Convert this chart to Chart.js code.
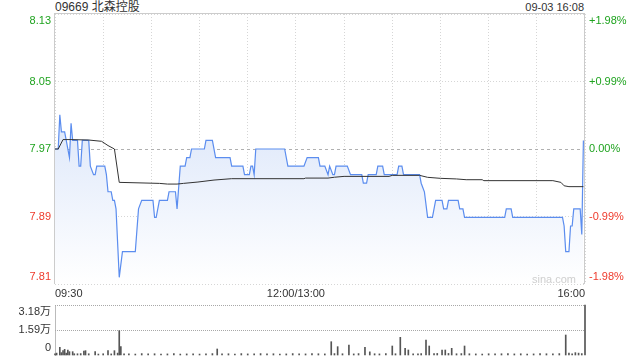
<!DOCTYPE html>
<html>
<head>
<meta charset="utf-8">
<script src="https://cdn.jsdelivr.net/npm/chart.js@4.4.1/dist/chart.umd.min.js"></script>
<style>
  body { margin: 0; background: #fff; width: 640px; height: 360px; overflow: hidden; position: relative;
         font-family: "Liberation Sans", Arial, "Noto Sans CJK SC", sans-serif; }
  #title { position: absolute; left: 55px; top: 0; font-size: 12px; line-height: 14px; color: #333; }
  #stamp { position: absolute; right: 56px; top: 0; font-size: 11px; line-height: 14px; color: #333; }
  #mark { position: absolute; left: 532px; top: 272px; font-size: 11px; line-height: 14px; color: #cfcfcf; }
  #price { position: absolute; left: 0; top: 0; }
  #vol { position: absolute; left: 0; top: 300px; }
</style>
</head>
<body>
<div id="title">09669 北森控股</div>
<div id="stamp">09-03 16:08</div>
<canvas id="price" width="640" height="300"></canvas>
<canvas id="vol" width="640" height="60"></canvas>
<div id="mark">sina.com</div>
<script>
const prevClose = 7.97
const pctTicks = [0.0198, 0.0099, 0, -0.0099, -0.0198]
const priceTickLabels = ['8.13', '8.05', '7.97', '7.89', '7.81']
const pctTickLabels = ['+1.98%', '+0.99%', '0.00%', '-0.99%', '-1.98%']
const xTickPos = [0, 150, 330]
const xTickText = ['09:30', '12:00/13:00', '16:00']

// minutes since 09:30 (lunch removed), price
const priceMin = [0, 2, 3, 4, 6, 7, 9, 10, 11, 14, 15, 16, 17, 21, 22, 24, 25, 26, 31, 32, 33, 35, 36, 37, 38, 40, 42, 50, 52, 54, 61, 62, 63, 65,
  70, 71, 75, 76, 78, 81, 82, 84, 85, 93, 94, 98, 100, 109, 110, 117, 118, 121, 122, 123, 124, 125,
  143, 145, 155, 157, 164, 165, 168, 170, 171, 173, 174, 175, 182, 184, 191, 192, 194, 195,
  200, 201, 204, 205, 213, 214, 216, 217, 227, 228, 230, 232, 235, 237, 241, 242, 244, 245, 251, 252, 254, 255,
  280, 281, 284, 285, 316, 317, 318, 320, 321, 322, 323, 327, 328, 329]
const priceVal = [7.97, 7.97, 8.01, 7.99, 7.99, 7.98, 7.96, 8.00, 7.98, 7.98, 7.95, 7.95, 7.98, 7.98, 7.95, 7.94, 7.94, 7.95, 7.95, 7.94, 7.92, 7.92, 7.91, 7.91, 7.90, 7.82, 7.85, 7.85, 7.90, 7.91, 7.91, 7.89, 7.89, 7.91,
  7.91, 7.92, 7.92, 7.90, 7.95, 7.95, 7.96, 7.96, 7.97, 7.97, 7.98, 7.98, 7.96, 7.96, 7.95, 7.95, 7.94, 7.94, 7.95, 7.95, 7.94, 7.97,
  7.97, 7.95, 7.95, 7.96, 7.96, 7.95, 7.95, 7.94, 7.95, 7.94, 7.94, 7.95, 7.95, 7.94, 7.94, 7.93, 7.93, 7.94,
  7.94, 7.95, 7.95, 7.94, 7.94, 7.95, 7.95, 7.94, 7.94, 7.93, 7.92, 7.89, 7.89, 7.91, 7.91, 7.90, 7.90, 7.91, 7.91, 7.90, 7.90, 7.89,
  7.89, 7.90, 7.90, 7.89, 7.89, 7.88, 7.85, 7.85, 7.88, 7.88, 7.90, 7.90, 7.87, 7.98]

const avgMin = [0, 2, 5, 10, 21, 29, 33, 37, 40, 65, 70, 76, 80, 89, 99, 110, 155, 156, 170, 174, 180, 208, 210, 227, 232, 240, 250, 256, 266, 267, 310, 315, 317, 320, 329]
const avgVal = [7.97, 7.97, 7.981, 7.981, 7.9805, 7.979, 7.974, 7.97, 7.931, 7.9298, 7.929, 7.929, 7.9298, 7.9314, 7.9337, 7.9353, 7.9353, 7.936, 7.936, 7.937, 7.938, 7.938, 7.9392, 7.9392, 7.9369, 7.9357, 7.935, 7.9341, 7.9341, 7.933, 7.933, 7.931, 7.927, 7.926, 7.926]

const volTicks = [0, 15900, 31800]
const volTickLabels = ['0', '1.59万', '3.18万']
const volMin = [0, 1, 3, 4, 5, 6, 7, 8, 9, 11, 12, 14, 16, 18, 19, 21, 25, 27, 30, 33, 35, 37, 39, 40, 41, 43, 46, 50, 54, 58, 62, 66, 70, 74, 78, 82, 86, 90, 94, 98,
  101, 104, 108, 112, 116, 120, 124, 128, 132, 136, 140, 144, 148, 152, 156, 160, 164, 168, 172, 174, 176, 179, 183, 186, 189, 193, 196, 199,
  202, 206, 210, 212, 215, 218, 220, 223, 226, 228, 231, 233, 236, 238, 241, 243, 245, 247, 250, 253, 255, 258, 262, 266, 270, 274, 278, 282, 286, 290, 294, 298,
  302, 306, 310, 314, 318, 320, 322, 324, 326, 328, 330]
const volVal = [800, 1200, 4870, 1500, 2760, 3600, 1200, 3180, 2120, 2120, 800, 800, 900, 2540, 2760, 800, 2120, 600, 800, 2760, 700, 2760, 1200, 15470, 5300, 800, 700, 600, 900, 700, 800, 600, 700, 900, 600, 700, 800, 600, 700, 900,
  3820, 700, 800, 600, 900, 700, 800, 900, 700, 800, 600, 700, 900, 800, 700, 900, 800, 700, 8460, 900, 5300, 800, 6360, 700, 900, 4870, 2000, 800,
  700, 900, 5720, 800, 11240, 4240, 3180, 800, 700, 900, 9540, 5720, 900, 1000, 3180, 3180, 1000, 4240, 800, 900, 5720, 800, 700, 600, 800, 700, 800, 900, 700, 800, 600, 700,
  900, 800, 700, 900, 12720, 1200, 700, 1500, 1200, 900, 31800]

Chart.defaults.font.family = '"Liberation Sans", Arial, "Noto Sans CJK SC", sans-serif'
Chart.defaults.font.size = 11
Chart.defaults.color = '#333'

const green = '#1fa31f'
const red = '#ee3a2c'

const frame = {
  id: 'frame',
  beforeDatasetsDraw(chart) {
    const {ctx, chartArea: a} = chart
    ctx.save()
    ctx.strokeStyle = '#cccccc'
    ctx.lineWidth = 1
    ctx.setLineDash([])
    ctx.strokeRect(Math.round(a.left) - 0.5, Math.round(a.top) - 0.5, Math.round(a.width), Math.round(a.height))
    ctx.restore()
  }
}

// dotted guide lines for the volume panel, placed by the y scale
const volGrid = {
  id: 'volGrid',
  beforeDatasetsDraw(chart) {
    const {ctx, chartArea: a, scales: {y}} = chart
    ctx.save()
    ctx.strokeStyle = '#a8a8a8'
    ctx.lineWidth = 1
    ctx.setLineDash([1, 1])
    y.ticks.forEach(t => {
      if (t.value === 0) return
      const py = Math.round(y.getPixelForValue(t.value)) + 0.5
      ctx.beginPath()
      ctx.moveTo(a.left, py)
      ctx.lineTo(a.right, py)
      ctx.stroke()
    })
    ctx.restore()
  }
}

// ticks are built bottom-up, labels listed top-down
const edgeLabel = (text, i, n) => i === n - 1 ? ['', text] : (i === 0 ? [text, ''] : text)
const pctAt = i => pctTicks[pctTicks.length - 1 - i]
const noEdgePad = s => { s.paddingTop = 0; s.paddingBottom = 0 }

new Chart(document.getElementById('price'), {
  type: 'line',
  data: {
    datasets: [{
      data: avgMin.map((m, i) => ({x: m, y: avgVal[i]})),
      borderColor: '#333',
      borderWidth: 1,
      pointRadius: 0,
      fill: false
    }, {
      data: priceMin.map((m, i) => ({x: m, y: priceVal[i]})),
      borderColor: '#5b8def',
      borderWidth: 1.2,
      pointRadius: 0,
      fill: 'start',
      backgroundColor: c => {
        const a = c.chart.chartArea
        if (!a) return 'rgba(0,0,0,0)'
        const g = c.chart.ctx.createLinearGradient(0, a.top, 0, a.bottom)
        g.addColorStop(0, '#c9d9f7')
        g.addColorStop(1, '#ffffff')
        return g
      }
    }]
  },
  options: {
    responsive: false,
    animation: false,
    devicePixelRatio: 1,
    layout: {padding: {top: 14, left: 0, right: 0, bottom: 0}},
    plugins: {legend: {display: false}, tooltip: {enabled: false}},
    scales: {
      x: {
        type: 'linear', min: 0, max: 330,
        ticks: {
          stepSize: 30, autoSkip: false, maxRotation: 0, align: 'inner', padding: 3,
          callback: v => { const k = xTickPos.indexOf(v); return k >= 0 ? xTickText[k] : '' }
        },
        afterFit: s => { s.height = 16 },
        grid: {color: '#d6d6d6', drawTicks: false},
        border: {display: false, dash: [1, 2]}
      },
      y: {
        position: 'left',
        min: prevClose * (1 - 0.0198), max: prevClose * (1 + 0.0198),
        afterBuildTicks: s => { s.ticks = pctTicks.map(p => ({value: prevClose * (1 + p)})).reverse() },
        afterFit: s => { s.width = 55; noEdgePad(s) },
        ticks: {
          padding: 4, autoSkip: false,
          color: c => pctAt(c.index) >= 0 ? green : red,
          callback: (v, i, t) => edgeLabel(priceTickLabels[t.length - 1 - i], i, t.length)
        },
        grid: {color: c => (c.tick && pctAt(c.index) === 0) ? '#b0b0b0' : '#d6d6d6', drawTicks: false},
        border: {display: false, dash: c => (c.tick && pctAt(c.index) === 0) ? [3, 3] : [1, 2]}
      },
      y2: {
        position: 'right',
        min: prevClose * (1 - 0.0198), max: prevClose * (1 + 0.0198),
        afterBuildTicks: s => { s.ticks = pctTicks.map(p => ({value: prevClose * (1 + p)})).reverse() },
        afterFit: s => { s.width = 55; noEdgePad(s) },
        ticks: {
          padding: 4, autoSkip: false,
          color: c => pctAt(c.index) >= 0 ? green : red,
          callback: (v, i, t) => edgeLabel(pctTickLabels[t.length - 1 - i], i, t.length)
        },
        grid: {display: false, drawTicks: false},
        border: {display: false}
      }
    }
  },
  plugins: [frame]
})

new Chart(document.getElementById('vol'), {
  type: 'bar',
  data: {
    datasets: [{
      data: volMin.map((m, i) => ({x: m, y: volVal[i]})),
      backgroundColor: '#555',
      barThickness: 1,
      clip: false
    }]
  },
  options: {
    responsive: false,
    animation: false,
    devicePixelRatio: 1,
    layout: {padding: {top: 5, bottom: 5, left: 0, right: 55}},
    plugins: {legend: {display: false}, tooltip: {enabled: false}},
    scales: {
      x: {type: 'linear', min: 0, max: 330, offset: false, display: false},
      y: {
        min: 0, max: 31800,
        afterBuildTicks: s => { s.ticks = volTicks.map(v => ({value: v})) },
        afterFit: s => { s.width = 55; noEdgePad(s) },
        ticks: {
          padding: 4, autoSkip: false,
          callback: (v, i, t) => edgeLabel(volTickLabels[i], i, t.length)
        },
        grid: {display: false, drawTicks: false},
        border: {display: true, color: '#bbbbbb'}
      }
    }
  },
  plugins: [volGrid]
})
</script>
</body>
</html>
